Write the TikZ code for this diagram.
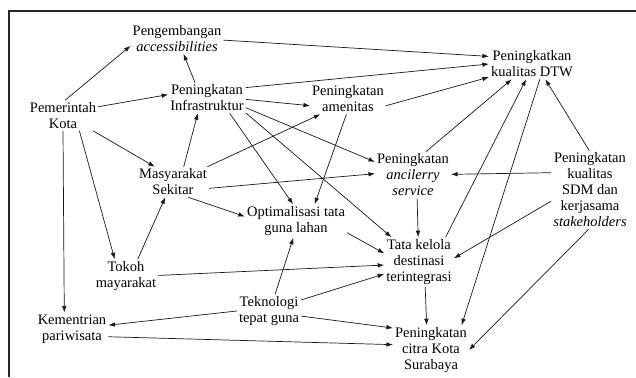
\documentclass[tikz,border=0pt]{standalone}
\usepackage{fontspec}
\setmainfont{Liberation Serif}
\usetikzlibrary{arrows.meta}
\begin{document}
\begin{tikzpicture}[x=1pt,y=-1pt,
  lbl/.style={align=center, inner sep=2pt, font=\fontsize{14.5}{16}\selectfont, text=black},
  conn/.style={-{Latex[length=6.5pt,width=4.6pt]}, line width=0.7pt, draw=black!90},
  frame/.style={line width=2pt, draw=black!85}]
\useasboundingbox (0,0) rectangle (636,377);
\fill[white] (0,0) rectangle (636,377);
\draw[frame] (8.7,377) -- (8.7,11) -- (636,11);

\node[lbl] (peng)  at (177,38.5) {Pengembangan\\\textit{accessibilities}};
\node[lbl] (dtw)   at (532,64)   {Peningkatkan\\kualitas DTW};
\node[lbl] (pem)   at (63,115.5) {Pemerintah\\Kota};
\node[lbl] (infra) at (207,98)   {Peningkatan\\Infrastruktur};
\node[lbl] (amen)  at (348,99)   {Peningkatan\\amenitas};
\node[lbl] (masy)  at (173,182)  {Masyarakat\\Sekitar};
\node[lbl] (anc)   at (413,175)  {Peningkatan\\\textit{ancilerry}\\\textit{service}};
\node[lbl] (sdm)   at (590,190)  {Peningkatan\\kualitas\\SDM dan\\kerjasama\\\textit{stakeholders}};
\node[lbl] (opt)   at (296,221)  {Optimalisasi tata\\guna lahan};
\node[lbl] (tata)  at (419,262)  {Tata kelola\\destinasi\\terintegrasi};
\node[lbl] (tokoh) at (126,276)  {Tokoh\\mayarakat};
\node[lbl] (tek)   at (269,311)  {Teknologi\\tepat guna};
\node[lbl] (kem)   at (72,329)   {Kementrian\\pariwisata};
\node[lbl] (citra) at (431,350)  {Peningkatan\\citra Kota\\Surabaya};

\draw[conn] (pem.82) -- (peng.189);
\draw[conn] (pem.14) -- (infra.175);
\draw[conn] (infra.128) -- (peng.293);
\draw[conn] (peng.358.6) -- (dtw.170.4);
\draw[conn] (infra.15.6) -- (dtw.180);
\draw[conn] (amen.350) -- (dtw.197);
\draw[conn] (infra.358) -- (amen.190);
\draw[conn] (masy.24) -- (amen.209.4);
\draw[conn] (masy.55.6) -- (infra.239.7);
\draw[conn] (pem.333.4) -- (masy.140.7);
\draw[conn] (pem.317.4) -- (tokoh.124.4);
\draw[conn] (pem.270) -- (kem.115);
\draw[conn] (tokoh.55.6) -- (masy.243.4);
\draw[conn] (masy.315) -- (opt.175.3);
\draw[conn] (masy.350) -- (anc.178.8);
\draw[conn] (infra.346.5) -- (anc.161.2);
\draw[conn] (infra.326.9) -- (opt.100.3);
\draw[conn] (infra.339.9) -- (tata.138.2);
\draw[conn] (amen.264.6) -- (opt.42.5);
\draw[conn] (anc.61) -- (dtw.217.7);
\draw[conn] (tata.43) -- (dtw.249.4);
\draw[conn] (dtw.297.5) -- (citra.39);
\draw[conn] (sdm.91.4) -- (dtw.311);
\draw[conn] (sdm.156.6) -- (anc.1.1);
\draw[conn] (sdm.196.3) -- (tata.6.5);
\draw[conn] (sdm.268.8) -- (citra.0);
\draw[conn] (anc.280.5) -- (tata.92.3);
\draw[conn] (opt.347.7) -- (tata.166.8);
\draw[conn] (tokoh.1.6) -- (tata.185.6);
\draw[conn] (tek.19.3) -- (tata.199.4);
\draw[conn] (tek.70.6) -- (opt.261);
\draw[conn] (tek.180) -- (kem.6.5);
\draw[conn] (tek.351.5) -- (citra.150);
\draw[conn] (kem.348) -- (citra.172.9);
\draw[conn] (tata.284) -- (citra.100);
\end{tikzpicture}
\end{document}
